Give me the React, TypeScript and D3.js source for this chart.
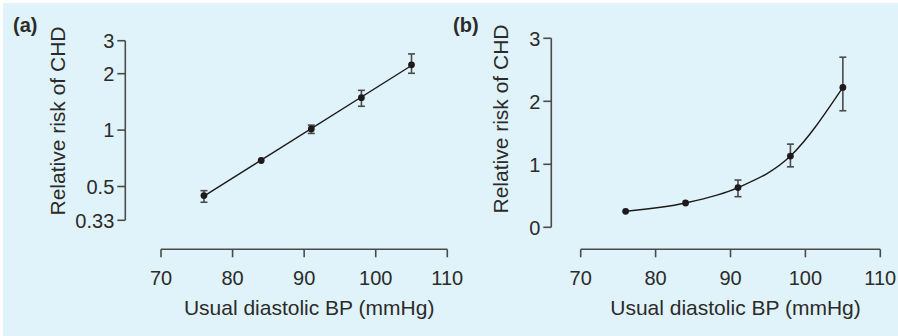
import React from "react";
import * as d3 from "d3";

const bp = [76, 84, 91, 98, 105];
const rrA = [0.447, 0.688, 1.015, 1.49, 2.23];
const rrALow: (number | null)[] = [0.412, null, 0.96, 1.34, 2.01];
const rrAHigh: (number | null)[] = [0.475, null, 1.063, 1.63, 2.55];
const rrB = [0.254, 0.386, 0.63, 1.13, 2.22];
const rrBLow: (number | null)[] = [null, null, 0.486, 0.96, 1.85];
const rrBHigh: (number | null)[] = [null, null, 0.75, 1.32, 2.7];
const xTicks = [70, 80, 90, 100, 110];
const yTicksA = [0.33, 0.5, 1, 2, 3];
const yTickLabelsA = ["0.33", "0.5", "1", "2", "3"];
const yTicksB = [0, 1, 2, 3];
const yTickLabelsB = ["0", "1", "2", "3"];

const FONT = "'Liberation Sans', Arial, Helvetica, sans-serif";
const TEXT = "#2b2b2b";
const AXIS = "#4a4a4a";
const MARK = "#1e1a1c";

type PanelProps = {
  label: string;
  labelX: number;
  x: d3.ScaleLinear<number, number>;
  y: any;
  yTicks: number[];
  yLabels: string[];
  values: number[];
  low: (number | null)[];
  high: (number | null)[];
  fitPath: string;
  yTitleX: number;
  yTitleY: number;
};

function Panel(p: PanelProps) {
  const [x0, x1] = p.x.range();
  const yr = p.y.range();
  const yBottom = Math.max(yr[0], yr[1]);
  const yTop = Math.min(yr[0], yr[1]);
  const axisY = 249.3;
  const yAxisX = x0 - 35.7 + (p.label === "(b)" ? 6.3 : 0);
  return (
    <g>
      <text x={p.labelX} y={32} fontFamily={FONT} fontSize={20} fontWeight="bold" fill={TEXT}>
        {p.label}
      </text>
      {/* y axis */}
      <g>
        <line x1={yAxisX} x2={yAxisX} y1={yTop} y2={yBottom} stroke={AXIS} strokeWidth={1.6} />
        {p.yTicks.map((t, i) => (
          <g key={t}>
            <line x1={yAxisX - 8} x2={yAxisX} y1={p.y(t)} y2={p.y(t)} stroke={AXIS} strokeWidth={1.6} />
            <text
              x={yAxisX - 11}
              y={p.y(t)}
              dy="0.36em"
              textAnchor="end"
              fontFamily={FONT}
              fontSize={20}
              fill={TEXT}
            >
              {p.yLabels[i]}
            </text>
          </g>
        ))}
        <text
          transform={`translate(${p.yTitleX},${p.yTitleY}) rotate(-90)`}
          textAnchor="middle"
          fontFamily={FONT}
          fontSize={21}
          fill={TEXT}
        >
          Relative risk of CHD
        </text>
      </g>
      {/* x axis */}
      <g>
        <line x1={x0} x2={x1} y1={axisY} y2={axisY} stroke={AXIS} strokeWidth={1.6} />
        {xTicks.map((t) => (
          <g key={t}>
            <line x1={p.x(t)} x2={p.x(t)} y1={axisY} y2={axisY + 8} stroke={AXIS} strokeWidth={1.6} />
            <text x={p.x(t)} y={285} textAnchor="middle" fontFamily={FONT} fontSize={20} fill={TEXT}>
              {t}
            </text>
          </g>
        ))}
        <text x={(x0 + x1) / 2 + 5} y={315} textAnchor="middle" fontFamily={FONT} fontSize={21} fill={TEXT}>
          Usual diastolic BP (mmHg)
        </text>
      </g>
      {/* fit */}
      <path d={p.fitPath} fill="none" stroke={MARK} strokeWidth={1.4} />
      {/* error bars */}
      {bp.map((b, i) => {
        const lo = p.low[i];
        const hi = p.high[i];
        if (lo == null || hi == null) return null;
        const cx = p.x(b);
        return (
          <g key={"e" + b} stroke={AXIS} strokeWidth={1.6}>
            <line x1={cx} x2={cx} y1={p.y(lo)} y2={p.y(hi)} />
            <line x1={cx - 3.5} x2={cx + 3.5} y1={p.y(lo)} y2={p.y(lo)} />
            <line x1={cx - 3.5} x2={cx + 3.5} y1={p.y(hi)} y2={p.y(hi)} />
          </g>
        );
      })}
      {bp.map((b, i) => (
        <circle key={"p" + b} cx={p.x(b)} cy={p.y(p.values[i])} r={3.4} fill={MARK} />
      ))}
    </g>
  );
}

export default function App() {
  const xA = d3.scaleLinear().domain([70, 110]).range([161, 447.3]);
  const yA = d3.scaleLog().domain([0.33, 3]).range([220.3, 40.7]);
  const xB = d3.scaleLinear().domain([70, 110]).range([580.7, 880.3]);
  const yB = d3.scaleLinear().domain([0, 3]).range([227.3, 38.3]);

  // least squares fit in log space for panel (a)
  const lx = bp;
  const ly = rrA.map((v) => Math.log(v));
  const mx = d3.mean(lx)!;
  const my = d3.mean(ly)!;
  const slope =
    d3.sum(lx.map((v, i) => (v - mx) * (ly[i] - my))) / d3.sum(lx.map((v) => (v - mx) * (v - mx)));
  const icpt = my - slope * mx;
  const fitA = d3
    .line<number>()
    .x((v) => xA(v))
    .y((v) => yA(Math.exp(icpt + slope * v)))([bp[0], bp[bp.length - 1]]) as string;

  const fitB = d3
    .line<number>()
    .x((_, i) => xB(bp[i]))
    .y((v) => yB(v))
    .curve(d3.curveMonotoneX)(rrB) as string;

  return (
    <svg
      width={898}
      height={336}
      style={{ position: "absolute", left: 0, top: 0, background: "#ffffff" }}
    >
      <rect x={3} y={3} width={895} height={333} fill="#e1f3fa" />
      <Panel
        label="(a)"
        labelX={13}
        x={xA}
        y={yA}
        yTicks={yTicksA}
        yLabels={yTickLabelsA}
        values={rrA}
        low={rrALow}
        high={rrAHigh}
        fitPath={fitA}
        yTitleX={65}
        yTitleY={121}
      />
      <Panel
        label="(b)"
        labelX={453}
        x={xB}
        y={yB}
        yTicks={yTicksB}
        yLabels={yTickLabelsB}
        values={rrB}
        low={rrBLow}
        high={rrBHigh}
        fitPath={fitB}
        yTitleX={508}
        yTitleY={119}
      />
    </svg>
  );
}
